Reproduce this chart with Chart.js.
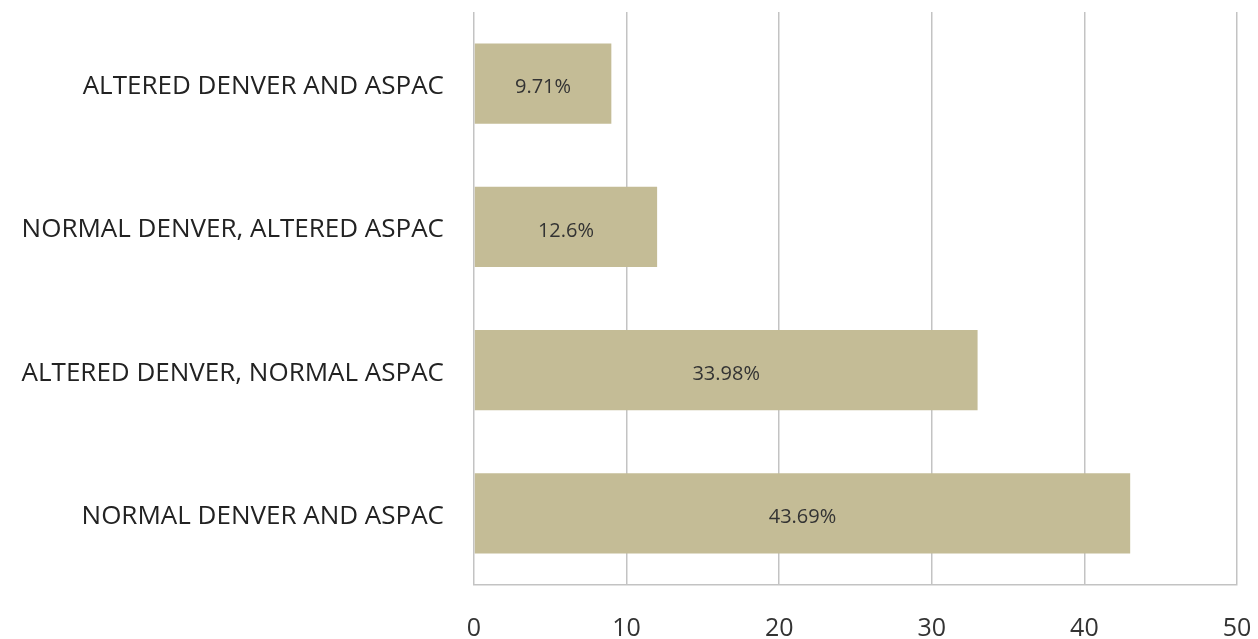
<!DOCTYPE html>
<html>
<head>
<meta charset="utf-8">
<script src="https://cdn.jsdelivr.net/npm/chart.js@4/dist/chart.umd.min.js"></script>
<style>
  html, body { margin: 0; padding: 0; background: #fff; }
  #wrap { width: 1258px; height: 639px; position: relative; }
</style>
</head>
<body>
<div id="wrap"><canvas id="chart"></canvas></div>
<script>
const categories = [
  'ALTERED DENVER AND ASPAC',
  'NORMAL DENVER, ALTERED ASPAC',
  'ALTERED DENVER, NORMAL ASPAC',
  'NORMAL DENVER AND ASPAC'
];
const counts = [9, 12, 33, 43];
const percentLabels = ['9.71%', '12.6%', '33.98%', '43.69%'];
const xTicks = [0, 10, 20, 30, 40, 50];

const barColor = '#c4bc96';
const gridColor = '#c3c3c3';
const font = '"Open Sans", "Liberation Sans", sans-serif';

// draw the percent text in the middle of each bar
const barText = {
  id: 'barText',
  afterDatasetsDraw(chart) {
    const ctx = chart.ctx;
    const meta = chart.getDatasetMeta(0);
    ctx.save();
    ctx.font = '20px ' + font;
    ctx.fillStyle = '#333';
    ctx.textAlign = 'center';
    ctx.textBaseline = 'middle';
    meta.data.forEach((bar, i) => {
      const cx = (bar.base + bar.x) / 2;
      ctx.fillText(percentLabels[i], cx, bar.y + 4);
    });
    ctx.restore();
  }
};

// no extra room for overflowing tick labels, the layout padding handles it
const noPad = (s) => {
  s.paddingTop = 0;
  s.paddingBottom = 0;
  s.paddingLeft = 0;
  s.paddingRight = 0;
};

const ctx = document.getElementById('chart').getContext('2d');
new Chart(ctx, {
  type: 'bar',
  data: {
    labels: categories,
    datasets: [{
      data: counts,
      backgroundColor: barColor,
      borderWidth: 0,
      categoryPercentage: 1,
      barPercentage: 0.56
    }]
  },
  options: {
    indexAxis: 'y',
    responsive: true,
    maintainAspectRatio: false,
    animation: false,
    layout: { padding: { top: 12, right: 21, bottom: 0, left: 0 } },
    plugins: {
      legend: { display: false },
      tooltip: { enabled: false }
    },
    scales: {
      x: {
        min: 0,
        max: 50,
        afterBuildTicks: (s) => { s.ticks = xTicks.map(v => ({ value: v })); },
        afterFit: (s) => { s.height = 54; noPad(s); },
        grid: { color: gridColor, lineWidth: 1.5, drawTicks: false },
        border: { display: true, color: gridColor, width: 1.5 },
        ticks: {
          padding: 29,
          color: '#333',
          font: { family: font, size: 25 }
        }
      },
      y: {
        afterFit: (s) => { s.width = 474; noPad(s); },
        grid: { display: false, drawTicks: false },
        border: { display: false },
        ticks: {
          padding: 30,
          labelOffset: 3,
          color: '#222',
          font: { family: font, size: 26 }
        }
      }
    }
  },
  plugins: [barText]
});
</script>
</body>
</html>
